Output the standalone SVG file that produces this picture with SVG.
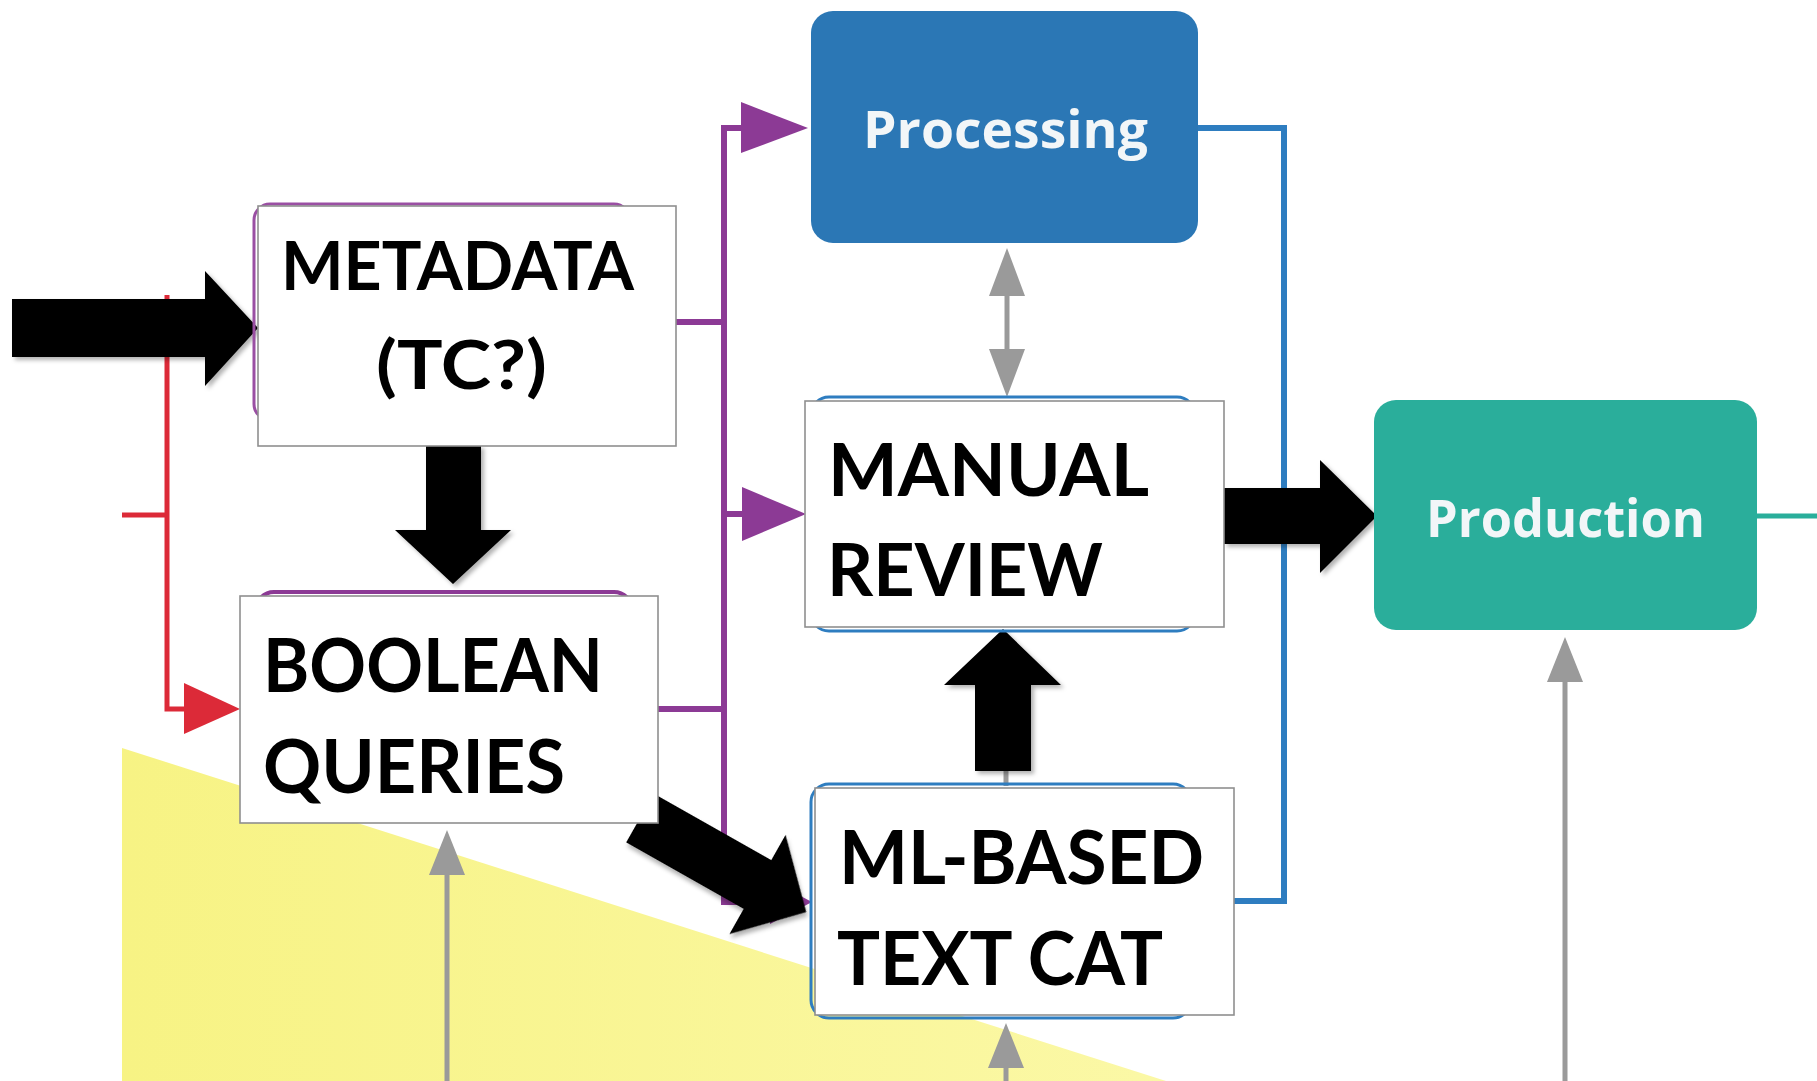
<svg xmlns="http://www.w3.org/2000/svg" width="1817" height="1081" viewBox="0 0 1817 1081">
<defs>
<style>
.box{fill:#ffffff;stroke:#8f8f8f;stroke-width:1.6}
.lbl{font-family:Lato,"Open Sans","Liberation Sans",sans-serif;font-weight:700;fill:#000000}
.cl{font-family:"Open Sans","Liberation Sans",sans-serif;font-weight:700;fill:#f2f6f8}
.blk{fill:#000000;filter:url(#sh)}
.gray{stroke:#9a9a9a;stroke-width:5;fill:none}
.grayh{fill:#9a9a9a}
.pur{stroke:#8c3a95;stroke-width:6;fill:none}
.purh{fill:#8c3a95}
.red{stroke:#dc2a38;stroke-width:5;fill:none}
.blue{stroke:#2e7dc0;stroke-width:6;fill:none}
</style>
<filter id="sh" x="-20%" y="-20%" width="140%" height="140%">
<feDropShadow dx="3" dy="3" stdDeviation="2" flood-color="#000" flood-opacity="0.3"/>
</filter>
<linearGradient id="yel" x1="0" y1="0" x2="1" y2="0">
<stop offset="0" stop-color="#f7f384"/>
<stop offset="1" stop-color="#fbf8a6"/>
</linearGradient>
</defs>
<rect x="0" y="0" width="1817" height="1081" fill="#ffffff"/>
<polygon id="yellow-area" points="122,748 1166,1081 122,1081" fill="url(#yel)"/>

<g id="connectors">
<polyline class="red" points="122,515 167,515"/>
<polyline class="red" points="167,295 167,709 190,709"/>
<polygon fill="#dc2a38" points="184,683 240,709 184,734"/>
<polyline class="pur" points="676,322 724,322"/>
<polyline class="pur" points="658,709 724,709"/>
<polyline class="pur" points="745,128 724,128 724,902 790,902"/>
<polyline class="pur" points="724,514 748,514"/>
<polygon class="purh" points="741,102 808,128 741,153"/>
<polygon class="purh" points="742,487 806,514 742,541"/>
<polygon class="purh" points="770,880 812,902 770,924"/>
<polyline class="blue" points="1196,128 1284,128 1284,901 1232,901"/>
<line x1="1755" y1="516" x2="1817" y2="516" stroke="#2aae9b" stroke-width="5"/>
<line class="gray" x1="1007" y1="290" x2="1007" y2="355"/>
<polygon class="grayh" points="1007,248 1025,296 989,296"/>
<polygon class="grayh" points="1007,397 1025,349 989,349"/>
<line class="gray" x1="1006" y1="760" x2="1006" y2="786"/>
<line class="gray" x1="447" y1="860" x2="447" y2="1081"/>
<polygon class="grayh" points="447,830 465,875 429,875"/>
<line class="gray" x1="1006" y1="1055" x2="1006" y2="1081"/>
<polygon class="grayh" points="1006,1023 1024,1068 988,1068"/>
<line class="gray" x1="1565" y1="670" x2="1565" y2="1081"/>
<polygon class="grayh" points="1565,637 1583,682 1547,682"/>
<polygon class="blk" points="12,299 205,299 205,271 258,328 205,386 205,357 12,357"/>
<polygon class="blk" points="426,445 481,445 481,530 511,530 453,584 395,530 426,530"/>
<polygon class="blk" points="1224,488 1320,488 1320,460 1377,516 1320,573 1320,544 1224,544"/>
<polygon class="blk" points="975,771 975,685 944,685 1003,629 1061,685 1031,685 1031,771"/>
<polygon class="blk" transform="translate(640,818) rotate(29.5)" points="0,-28 135,-28 135,-57 191,0 135,57 135,28 0,28"/>
</g>

<g id="node-processing">
<rect x="811" y="11" width="387" height="232" rx="22" fill="#2b77b5"/>
<text class="cl" x="863" y="148" font-size="52" textLength="285" lengthAdjust="spacingAndGlyphs">Processing</text>
</g>

<g id="node-production">
<rect x="1374" y="400" width="383" height="230" rx="22" fill="#2aae9b"/>
<text class="cl" x="1426" y="537" font-size="52" textLength="279" lengthAdjust="spacingAndGlyphs">Production</text>
</g>

<g id="node-metadata">
<rect x="254" y="204" width="376" height="216" rx="16" fill="none" stroke="#9a4fa3" stroke-width="3"/>
<rect class="box" x="258" y="206" width="418" height="240"/>
<text class="lbl" x="281" y="290" font-size="66" textLength="353" lengthAdjust="spacingAndGlyphs">METADATA</text>
<text class="lbl" x="376" y="389" font-size="66" textLength="171" lengthAdjust="spacingAndGlyphs">(TC?)</text>
</g>

<g id="node-boolean">
<rect x="256" y="592" width="376" height="228" rx="18" fill="none" stroke="#8c3a95" stroke-width="4"/>
<rect class="box" x="240" y="596" width="418" height="227"/>
<text class="lbl" x="263" y="692" font-size="75" textLength="340" lengthAdjust="spacingAndGlyphs">BOOLEAN</text>
<text class="lbl" x="263" y="793" font-size="75" textLength="302" lengthAdjust="spacingAndGlyphs">QUERIES</text>
</g>

<g id="node-manual">
<rect x="811" y="397" width="384" height="234" rx="18" fill="none" stroke="#2e7dc0" stroke-width="3"/>
<rect class="box" x="805" y="401" width="419" height="226"/>
<text class="lbl" x="828" y="496" font-size="73" textLength="321" lengthAdjust="spacingAndGlyphs">MANUAL</text>
<text class="lbl" x="827" y="596" font-size="73" textLength="276" lengthAdjust="spacingAndGlyphs">REVIEW</text>
</g>

<g id="node-ml">
<rect x="811" y="784" width="380" height="234" rx="18" fill="none" stroke="#2e7dc0" stroke-width="3"/>
<rect class="box" x="815" y="788" width="419" height="227"/>
<text class="lbl" x="839" y="884" font-size="74" textLength="365" lengthAdjust="spacingAndGlyphs">ML-BASED</text>
<text class="lbl" x="837" y="985" font-size="74" textLength="326" lengthAdjust="spacingAndGlyphs">TEXT CAT</text>
</g>
</svg>
